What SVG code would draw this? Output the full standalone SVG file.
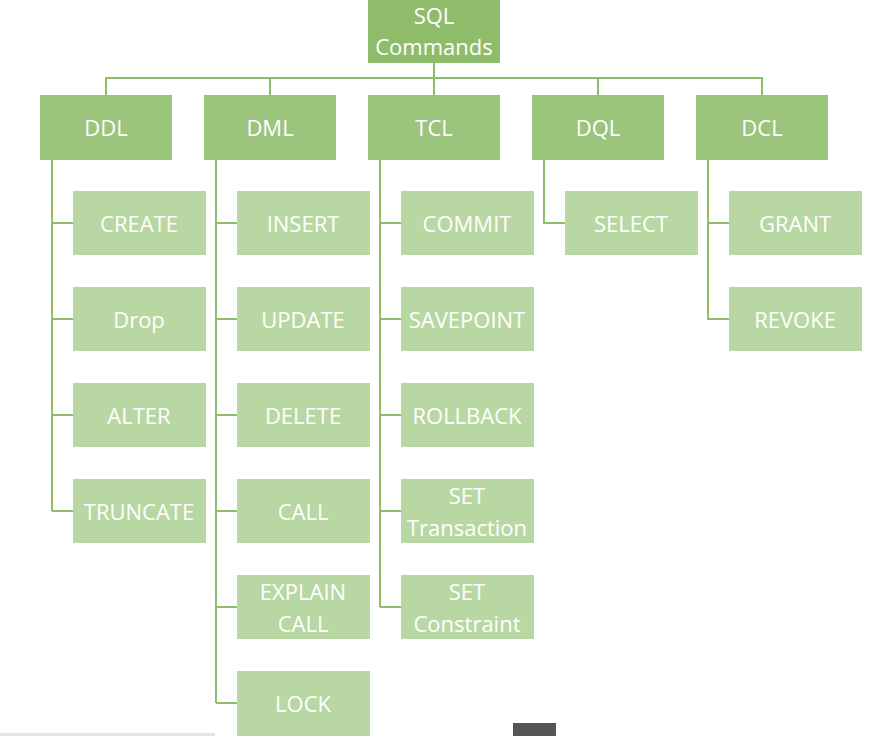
<svg xmlns="http://www.w3.org/2000/svg" width="883" height="736" viewBox="0 0 883 736">
<style>
.t{fill:#8fbc6a}.p{fill:#9bc47c}.c{fill:#b9d7a3}
text{font-family:"Open Sans","Liberation Sans",sans-serif;font-size:22px;fill:#fff;text-anchor:middle;dominant-baseline:central}
#connectors path{fill:none;stroke:#8fbc6a;stroke-width:2}
</style>
<rect width="883" height="736" fill="#fff"/>
<g id="connectors">
<path d="M434 63V95M106 95V78H762V95M270 78V95M598 78V95"/>
<path d="M52 160V511M52 223H73M52 319H73M52 415H73M52 511H73"/>
<path d="M216 160V703M216 223H237M216 319H237M216 415H237M216 511H237M216 607H237M216 703H237"/>
<path d="M380 160V607M380 223H401M380 319H401M380 415H401M380 511H401M380 607H401"/>
<path d="M544 160V223H565"/>
<path d="M708 160V319H729M708 223H729"/>
</g>
<g id="sql"><rect class="t" x="368" y="0" width="132" height="63"/><text x="434" y="15">SQL</text><text x="434" y="46">Commands</text></g>
<g id="ddl"><rect class="p" x="40" y="95" width="132" height="65"/><text x="106" y="127">DDL</text></g>
<g id="dml"><rect class="p" x="204" y="95" width="132" height="65"/><text x="270" y="127">DML</text></g>
<g id="tcl"><rect class="p" x="368" y="95" width="132" height="65"/><text x="434" y="127">TCL</text></g>
<g id="dql"><rect class="p" x="532" y="95" width="132" height="65"/><text x="598" y="127">DQL</text></g>
<g id="dcl"><rect class="p" x="696" y="95" width="132" height="65"/><text x="762" y="127">DCL</text></g>
<g id="create"><rect class="c" x="73" y="191" width="133" height="64"/><text x="139" y="223">CREATE</text></g>
<g id="drop"><rect class="c" x="73" y="287" width="133" height="64"/><text x="139" y="319">Drop</text></g>
<g id="alter"><rect class="c" x="73" y="383" width="133" height="64"/><text x="139" y="415">ALTER</text></g>
<g id="truncate"><rect class="c" x="73" y="479" width="133" height="64"/><text x="139" y="511">TRUNCATE</text></g>
<g id="insert"><rect class="c" x="237" y="191" width="133" height="64"/><text x="303" y="223">INSERT</text></g>
<g id="update"><rect class="c" x="237" y="287" width="133" height="64"/><text x="303" y="319">UPDATE</text></g>
<g id="delete"><rect class="c" x="237" y="383" width="133" height="64"/><text x="303" y="415">DELETE</text></g>
<g id="call"><rect class="c" x="237" y="479" width="133" height="64"/><text x="303" y="511">CALL</text></g>
<g id="explain"><rect class="c" x="237" y="575" width="133" height="64"/><text x="303" y="591">EXPLAIN</text><text x="303" y="623">CALL</text></g>
<g id="lock"><rect class="c" x="237" y="671" width="133" height="70"/><text x="303" y="703">LOCK</text></g>
<g id="commit"><rect class="c" x="401" y="191" width="133" height="64"/><text x="467" y="223">COMMIT</text></g>
<g id="savepoint"><rect class="c" x="401" y="287" width="133" height="64"/><text x="467" y="319">SAVEPOINT</text></g>
<g id="rollback"><rect class="c" x="401" y="383" width="133" height="64"/><text x="467" y="415">ROLLBACK</text></g>
<g id="settx"><rect class="c" x="401" y="479" width="133" height="64"/><text x="467" y="495">SET</text><text x="467" y="527">Transaction</text></g>
<g id="setcon"><rect class="c" x="401" y="575" width="133" height="64"/><text x="467" y="591">SET</text><text x="467" y="623">Constraint</text></g>
<g id="select"><rect class="c" x="565" y="191" width="133" height="64"/><text x="631" y="223">SELECT</text></g>
<g id="grant"><rect class="c" x="729" y="191" width="133" height="64"/><text x="795" y="223">GRANT</text></g>
<g id="revoke"><rect class="c" x="729" y="287" width="133" height="64"/><text x="795" y="319">REVOKE</text></g>
<rect x="0" y="733" width="215" height="3" fill="#dde6f0"/>
<rect x="513" y="723" width="43" height="13" fill="#555"/>
</svg>
